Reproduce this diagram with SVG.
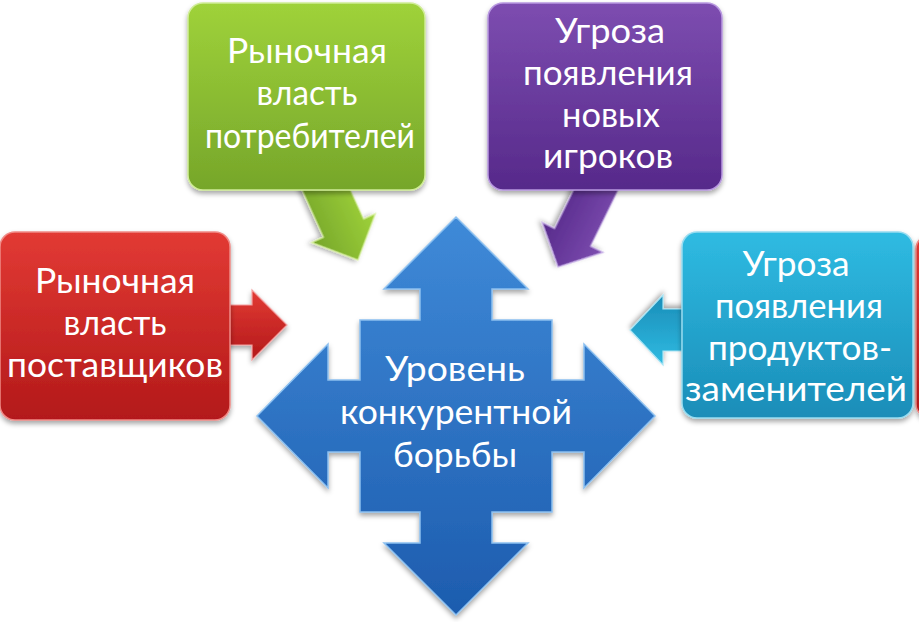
<svg xmlns="http://www.w3.org/2000/svg" width="919" height="622" viewBox="0 0 919 622">
<defs>
  <linearGradient id="gRed" x1="0" y1="0" x2="0" y2="1">
    <stop offset="0" stop-color="#e23a34"/>
    <stop offset="1" stop-color="#b3191a"/>
  </linearGradient>
  <linearGradient id="gGreen" x1="0" y1="0" x2="0" y2="1">
    <stop offset="0" stop-color="#9fd23a"/>
    <stop offset="1" stop-color="#76a62a"/>
  </linearGradient>
  <linearGradient id="gPurple" x1="0" y1="0" x2="0" y2="1">
    <stop offset="0" stop-color="#7d4db0"/>
    <stop offset="1" stop-color="#56298a"/>
  </linearGradient>
  <linearGradient id="gCyan" x1="0" y1="0" x2="0" y2="1">
    <stop offset="0" stop-color="#2fbbe2"/>
    <stop offset="1" stop-color="#1a8db8"/>
  </linearGradient>
  <linearGradient id="gBlue" x1="0" y1="0" x2="0" y2="1">
    <stop offset="0" stop-color="#3f8ad8"/>
    <stop offset="1" stop-color="#1d5cae"/>
  </linearGradient>
  <filter id="sh" x="-10%" y="-10%" width="120%" height="125%">
    <feDropShadow dx="0" dy="3" stdDeviation="2.5" flood-color="#000" flood-opacity="0.35"/>
  </filter>
</defs>
<style>
  .t { font-family: Lato, "Open Sans", "DejaVu Sans", sans-serif; font-size: 34px; fill: #ffffff; text-anchor: middle; }
  .box { stroke-width: 1.5; filter: url(#sh); }
  .arr { stroke-width: 1.2; filter: url(#sh); }
</style>

<g id="connectors">
  <polygon class="arr" fill="url(#gRed)" stroke="#f3a0a0" points="0,0 -35,35 -35,20 -80,20 -80,-20 -35,-20 -35,-35" transform="translate(287,325)"/>
  <polygon class="arr" fill="url(#gGreen)" stroke="#d8f0a0" points="0,0 -35,35 -35,22 -110,22 -110,-22 -35,-22 -35,-35" transform="translate(358,260) rotate(65.6)"/>
  <polygon class="arr" fill="url(#gPurple)" stroke="#c8b0e8" points="0,0 -33,34 -33,20 -110,20 -110,-20 -33,-20 -33,-34" transform="translate(558,267) rotate(116.2)"/>
  <polygon class="arr" fill="url(#gCyan)" stroke="#a8e4f4" points="0,0 -33,35 -33,21 -80,21 -80,-21 -33,-21 -33,-35" transform="translate(630,330) rotate(180)"/>
</g>

<g id="node-extra-right">
  <rect class="box" x="916" y="235" width="60" height="183" rx="14" fill="url(#gRed)" stroke="#f08a86"/>
</g>

<g id="node-suppliers">
  <rect class="box" x="0" y="232" width="230" height="188" rx="15" fill="url(#gRed)" stroke="#f08a86"/>
  <text class="t" x="115" y="293" textLength="160" lengthAdjust="spacingAndGlyphs">Рыночная</text>
  <text class="t" x="115" y="335" textLength="103" lengthAdjust="spacingAndGlyphs">власть</text>
  <text class="t" x="115" y="377" textLength="216" lengthAdjust="spacingAndGlyphs">поставщиков</text>
</g>

<g id="node-buyers">
  <rect class="box" x="188" y="3" width="237" height="187" rx="15" fill="url(#gGreen)" stroke="#d0ec98"/>
  <text class="t" x="307" y="63" textLength="160" lengthAdjust="spacingAndGlyphs">Рыночная</text>
  <text class="t" x="307" y="105" textLength="101" lengthAdjust="spacingAndGlyphs">власть</text>
  <text class="t" x="310" y="148" textLength="210" lengthAdjust="spacingAndGlyphs">потребителей</text>
</g>

<g id="node-new-entrants">
  <rect class="box" x="488" y="3" width="234" height="187" rx="15" fill="url(#gPurple)" stroke="#b898e0"/>
  <text class="t" x="610" y="43" textLength="110" lengthAdjust="spacingAndGlyphs">Угроза</text>
  <text class="t" x="608" y="85" textLength="170" lengthAdjust="spacingAndGlyphs">появления</text>
  <text class="t" x="611" y="127" textLength="98" lengthAdjust="spacingAndGlyphs">новых</text>
  <text class="t" x="608" y="168" textLength="130" lengthAdjust="spacingAndGlyphs">игроков</text>
</g>

<g id="node-substitutes">
  <rect class="box" x="682" y="232" width="231" height="186" rx="15" fill="url(#gCyan)" stroke="#98dcf0"/>
  <text class="t" x="796" y="276" textLength="107" lengthAdjust="spacingAndGlyphs">Угроза</text>
  <text class="t" x="799" y="318" textLength="168" lengthAdjust="spacingAndGlyphs">появления</text>
  <text class="t" x="800" y="360" textLength="184" lengthAdjust="spacingAndGlyphs">продуктов-</text>
  <text class="t" x="796" y="401" textLength="222" lengthAdjust="spacingAndGlyphs">заменителей</text>
</g>

<g id="node-rivalry">
  <polygon filter="url(#sh)" fill="url(#gBlue)" stroke="#8cc0f0" stroke-width="1.5" stroke-linejoin="miter"
    points="456,217 528,289 492,289 492,320 552,320 552,380 584,380 584,344 655,416 584,488 584,452 552,452 552,512 492,512 492,543 528,543 456,615 384,543 420,543 420,512 360,512 360,452 328,452 328,488 257,416 328,344 328,380 360,380 360,320 420,320 420,289 384,289"/>
  <text class="t" x="455" y="381" textLength="140" lengthAdjust="spacingAndGlyphs">Уровень</text>
  <text class="t" x="456" y="424" textLength="232" lengthAdjust="spacingAndGlyphs">конкурентной</text>
  <text class="t" x="455" y="467" textLength="124" lengthAdjust="spacingAndGlyphs">борьбы</text>
</g>
</svg>
